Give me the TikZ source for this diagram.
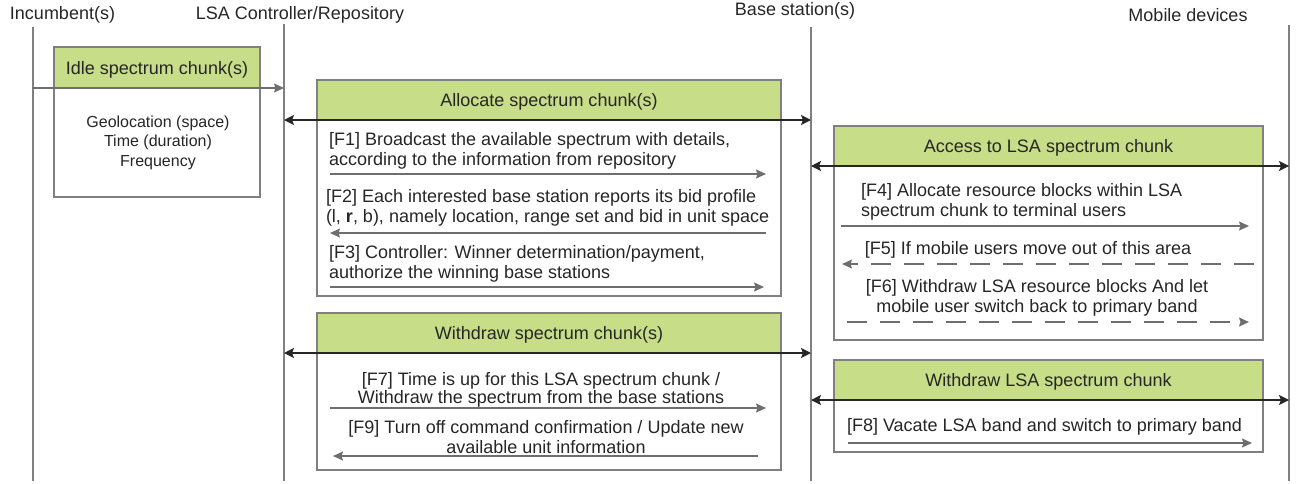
\documentclass[tikz,border=0pt]{standalone}
\usepackage{fontspec}
\setmainfont{Liberation Sans}
\usetikzlibrary{arrows.meta}
\definecolor{hdrgreen}{HTML}{C8DD88}
\definecolor{boxgray}{HTML}{808080}
\definecolor{msggray}{HTML}{6E6E6E}
\definecolor{txt}{HTML}{262626}
\begin{document}
\begin{tikzpicture}[x=1pt,y=-1pt,
  font=\fontsize{18}{20}\selectfont, text=txt,
  hdr/.style={draw=boxgray, line width=1.2pt, fill=hdrgreen, outer sep=0pt, inner sep=0pt, text depth=0pt},
  bodybox/.style={draw=boxgray, line width=1.2pt, fill=white, outer sep=0pt, inner sep=0pt},
  life/.style={draw=boxgray, line width=1.4pt},
  msg/.style={draw=msggray, line width=1.2pt, -{Stealth[length=10pt,width=9pt,inset=1.5pt]}},
  dmsg/.style={msg, dash pattern=on 20pt off 13pt},
  dbl/.style={draw=black!85, line width=1.5pt, {Stealth[length=10pt,width=10pt,inset=2pt]}-{Stealth[length=10pt,width=10pt,inset=2pt]}},
  lbl/.style={inner sep=0pt, outer sep=0pt}]
\useasboundingbox (0,0) rectangle (1297,483);

% lifeline labels
\node[lbl] (linc) at (62.5,15) {Incumbent(s)};
\node[lbl] (lctl) at (300,15) {LSA Controller/Repository};
\node[lbl] (lbs) at (795,10.5) {Base station(s)};
\node[lbl] (lmob) at (1188,15) {Mobile devices};

% lifelines
\coordinate (incT) at (33,27);   \coordinate (incB) at (33,481);
\coordinate (ctlT) at (284,24);  \coordinate (ctlB) at (284,481);
\coordinate (bsT) at (811,27);   \coordinate (bsB) at (811,481);
\coordinate (mobT) at (1289,25); \coordinate (mobB) at (1289,481);
\draw[life] (incT) -- (incB);
\draw[life] (ctlT) -- (ctlB);
\draw[life] (bsT) -- (bsB);
\draw[life] (mobT) -- (mobB);

% Idle box
\node[bodybox, minimum width=206pt, minimum height=109pt, anchor=north west] (idleB) at (54,88) {};
\node[hdr, minimum width=206pt, minimum height=41pt, anchor=south west] (idleH) at (54,88) {Idle spectrum chunk(s)};
\node[lbl, align=center, font=\fontsize{16}{19.5}\selectfont] (idleT) at (158,142.5) {Geolocation (space)\\Time (duration)\\Frequency};
\coordinate (idleS) at (33,88); \coordinate (idleE) at (284,88);
\draw[msg] (idleS) -- (idleE);

% Allocate box
\node[bodybox, minimum width=464pt, minimum height=176pt, anchor=north west] (allocB) at (317,120) {};
\node[hdr, minimum width=464pt, minimum height=40pt, anchor=south west] (allocH) at (317,120) {Allocate spectrum chunk(s)};
\coordinate (alL) at (284,120); \coordinate (alR) at (811,120);
\draw[dbl] (alL) -- (alR);
\node[lbl, anchor=west, align=left] (f1) at (329,150.5) {[F1] Broadcast the available spectrum with details,\\according to the information from repository};
\coordinate (f1s) at (330,174); \coordinate (f1e) at (766,174);
\draw[msg] (f1s) -- (f1e);
\node[lbl, anchor=west, align=left] (f2) at (326,208) {[F2] Each interested base station reports its bid profile\\(l, \textbf{r}, b), namely location, range set and bid in unit space};
\coordinate (f2s) at (766,233); \coordinate (f2e) at (330,233);
\draw[msg] (f2s) -- (f2e);
\node[lbl, anchor=west, align=left] (f3) at (329,264) {[F3] Controller: Winner determination/payment,\\authorize the winning base stations};
\coordinate (f3s) at (330,287); \coordinate (f3e) at (764,287);
\draw[msg] (f3s) -- (f3e);

% Access box
\node[bodybox, minimum width=429pt, minimum height=174pt, anchor=north west] (accB) at (834,166) {};
\node[hdr, minimum width=429pt, minimum height=40pt, anchor=south west] (accH) at (834,166) {Access to LSA spectrum chunk};
\coordinate (acL) at (811,166); \coordinate (acR) at (1289,166);
\draw[dbl] (acL) -- (acR);
\node[lbl, anchor=west, align=left] (f4) at (861,202) {[F4] Allocate resource blocks within LSA\\spectrum chunk to terminal users};
\coordinate (f4s) at (841,226); \coordinate (f4e) at (1249,226);
\draw[msg] (f4s) -- (f4e);
\node[lbl] (f5) at (1028,250) {[F5] If mobile users move out of this area};
\coordinate (f5s) at (1254,264); \coordinate (f5e) at (842,264);
\draw[dmsg] (f5s) -- (f5e);
\node[lbl, align=center] (f6) at (1037,297.5) {[F6] Withdraw LSA resource blocks And let\\mobile user switch back to primary band};
\coordinate (f6s) at (847,322); \coordinate (f6e) at (1249,322);
\draw[dmsg] (f6s) -- (f6e);

% Withdraw box
\node[bodybox, minimum width=464pt, minimum height=117pt, anchor=north west] (wdB) at (317,353) {};
\node[hdr, minimum width=464pt, minimum height=40pt, anchor=south west] (wdH) at (317,353) {Withdraw spectrum chunk(s)};
\coordinate (wdL) at (284,353); \coordinate (wdR) at (811,353);
\draw[dbl] (wdL) -- (wdR);
\node[lbl, align=center, font=\fontsize{18}{16.5}\selectfont] (f7) at (541,389.5) {[F7] Time is up for this LSA spectrum chunk /\\Withdraw the spectrum from the base stations};
\coordinate (f7s) at (330,408); \coordinate (f7e) at (766,408);
\draw[msg] (f7s) -- (f7e);
\node[lbl, align=center] (f9) at (546,437) {[F9] Turn off command confirmation / Update new\\available unit information};
\coordinate (f9s) at (758,456); \coordinate (f9e) at (333,456);
\draw[msg] (f9s) -- (f9e);

% Withdraw LSA box
\node[bodybox, minimum width=429pt, minimum height=52pt, anchor=north west] (wlB) at (834,400) {};
\node[hdr, minimum width=429pt, minimum height=40pt, anchor=south west] (wlH) at (834,400) {Withdraw LSA spectrum chunk};
\coordinate (wlL) at (811,400); \coordinate (wlR) at (1289,400);
\draw[dbl] (wlL) -- (wlR);
\node[lbl, anchor=west] (f8) at (847,427) {[F8] Vacate LSA band and switch to primary band};
\coordinate (f8s) at (848,443); \coordinate (f8e) at (1252,443);
\draw[msg] (f8s) -- (f8e);
\end{tikzpicture}
\end{document}
